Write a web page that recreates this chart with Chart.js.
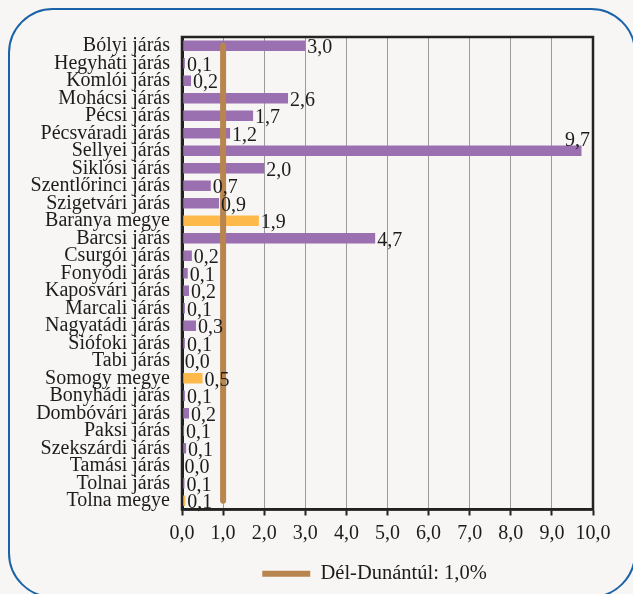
<!DOCTYPE html>
<html>
<head>
<meta charset="utf-8">
<script src="https://cdn.jsdelivr.net/npm/chart.js@4"></script>
<style>
html,body{margin:0;padding:0;background:#F7F6F4;overflow:hidden;}
#wrap{position:relative;width:633px;height:594px;overflow:hidden;}
#frame{position:absolute;left:8px;top:8px;width:628px;height:590px;border:2px solid #1B63A8;border-radius:45px;box-sizing:border-box;}
#c{position:absolute;left:0;top:0;}
</style>
</head>
<body>
<div id="wrap"><div id="frame"></div><canvas id="c" width="633" height="594"></canvas></div>
<script>
const categories = ["Bólyi járás","Hegyháti járás","Komlói járás","Mohácsi járás","Pécsi járás","Pécsváradi járás","Sellyei járás","Siklósi járás","Szentlőrinci járás","Szigetvári járás","Baranya megye","Barcsi járás","Csurgói járás","Fonyódi járás","Kaposvári járás","Marcali járás","Nagyatádi járás","Siófoki járás","Tabi járás","Somogy megye","Bonyhádi járás","Dombóvári járás","Paksi járás","Szekszárdi járás","Tamási járás","Tolnai járás","Tolna megye"];
const values = [3.0,0.07,0.22,2.58,1.73,1.17,9.72,2.0,0.7,0.9,1.87,4.7,0.24,0.14,0.17,0.07,0.34,0.07,0.02,0.5,0.07,0.17,0.05,0.1,0.01,0.06,0.08];
const countyRows = ["Baranya megye","Somogy megye","Tolna megye"];
const regionValue = 1.0;
const regionLabel = "Dél-Dunántúl: 1,0%";
const xTicks = [0,1,2,3,4,5,6,7,8,9,10];

const PURPLE = '#9B70B0', ORANGE = '#FDB94A', BROWN = '#B9854F', INK = '#1c1c1c';
const FONT = "'Liberation Serif', 'Times New Roman', serif";
const fmt = v => v.toFixed(1).replace('.', ',');

const labelPlugin = {
  id: 'barLabels',
  afterDatasetsDraw(chart) {
    const ctx = chart.ctx, meta = chart.getDatasetMeta(0), area = chart.chartArea;
    ctx.save();
    ctx.font = "20px " + FONT;
    ctx.fillStyle = INK;
    meta.data.forEach((bar, i) => {
      const txt = fmt(values[i]);
      const w = ctx.measureText(txt).width;
      ctx.textBaseline = 'middle';
      if (bar.x + 2 + w > area.right) {
        ctx.textAlign = 'right';
        ctx.fillText(txt, area.right - 3, bar.y - 10);
      } else {
        ctx.textAlign = 'left';
        ctx.fillText(txt, bar.x + 2, bar.y + 2);
      }
    });
    ctx.restore();
  }
};
const framePlugin = {
  id: 'frame',
  afterLayout(chart) {
    if (chart.legend) { chart.legend.left += 78; chart.legend.right += 78; }
  },
  afterDraw(chart) {
    const a = chart.chartArea, ctx = chart.ctx;
    ctx.save();
    ctx.strokeStyle = '#222';
    ctx.lineWidth = 2.5;
    ctx.strokeRect(a.left, a.top, a.right - a.left, a.bottom - a.top);
    ctx.restore();
  }
};

new Chart(document.getElementById('c'), {
  data: {
    labels: categories,
    datasets: [
      {
        type: 'bar',
        label: 'járások',
        data: values,
        backgroundColor: categories.map(c => countyRows.includes(c) ? ORANGE : PURPLE),
        barPercentage: 0.6,
        categoryPercentage: 1.0,
        order: 2
      },
      {
        type: 'line',
        indexAxis: 'y',
        label: regionLabel,
        data: categories.map(() => regionValue),
        borderColor: BROWN,
        backgroundColor: BROWN,
        borderWidth: 6,
        borderCapStyle: 'round',
        pointRadius: 0,
        pointStyle: 'line',
        fill: false,
        order: 1
      }
    ]
  },
  options: {
    indexAxis: 'y',
    responsive: false,
    animation: false,
    devicePixelRatio: 1,
    layout: { padding: { top: 37, right: 40, bottom: 0, left: 0 } },
    plugins: {
      tooltip: { enabled: false },
      legend: {
        position: 'bottom',
        labels: {
          filter: item => item.datasetIndex === 1,
          usePointStyle: true,
          pointStyle: 'line',
          pointStyleWidth: 48,
          boxHeight: 6,
          color: INK,
          font: { family: FONT, size: 20.5 },
          padding: 10
        }
      }
    },
    scales: {
      x: {
        type: 'linear',
        min: 0, max: 10,
        afterBuildTicks: s => { s.ticks = xTicks.map(v => ({ value: v })); },
        afterFit: s => { s.height = 44; },
        grid: { color: '#9a9a9a', lineWidth: 1, tickColor: '#222', tickLength: 6, tickWidth: 2 },
        border: { color: '#222', width: 2.5 },
        ticks: { color: INK, font: { family: FONT, size: 20 }, padding: 6, callback: v => fmt(v), maxRotation: 0 }
      },
      y: {
        afterFit: s => { s.width = 182; },
        grid: { display: false, drawTicks: false },
        border: { color: '#222', width: 3 },
        ticks: { color: INK, font: { family: FONT, size: 20 }, padding: 12, autoSkip: false }
      }
    }
  },
  plugins: [labelPlugin, framePlugin]
});
</script>
</body>
</html>
